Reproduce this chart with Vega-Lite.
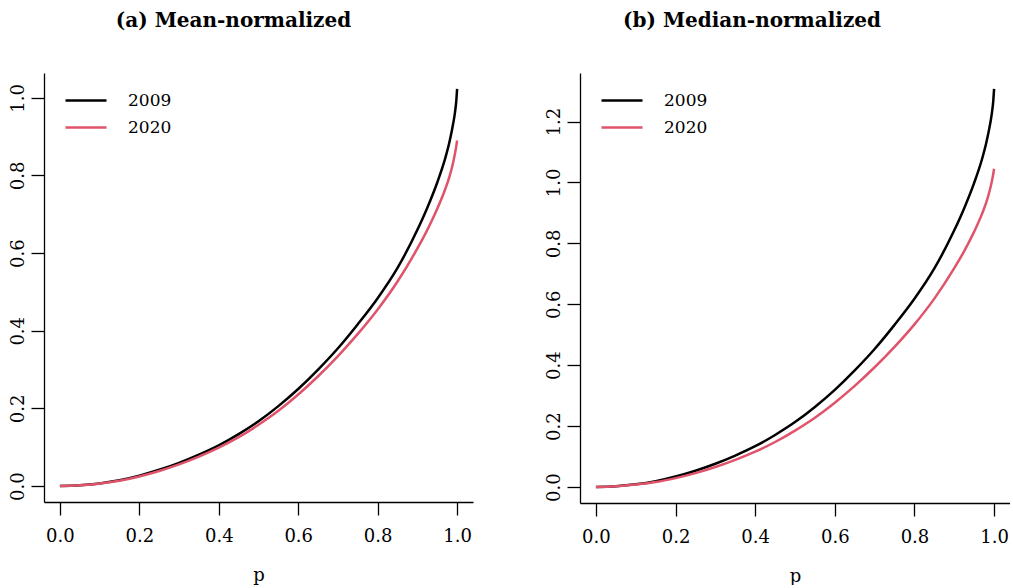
{
  "$schema": "https://vega.github.io/schema/vega-lite/v6.json",
  "padding": {"left": 9, "top": 11, "right": 0, "bottom": 0},
  "background": "white",
  "bounds": "flush",
  "spacing": 107,
  "config": {
    "font": "DejaVu Serif",
    "view": {"stroke": null},
    "axis": {"domainColor": "black", "tickColor": "black", "labelColor": "black", "titleColor": "black", "grid": false, "labelFont": "DejaVu Serif", "labelFontSize": 18, "tickSize": 13, "domainWidth": 1.3, "tickWidth": 1.3, "titleFont": "DejaVu Serif", "titleFontSize": 18, "titleFontWeight": "normal", "labelOverlap": false, "labelFlush": false},
    "legend": {"title": null, "orient": "none", "symbolType": "stroke", "symbolSize": 1681, "symbolStrokeWidth": 2.5, "labelFont": "DejaVu Serif", "labelFontSize": 17, "labelColor": "black", "labelOffset": 20, "rowPadding": 0, "clipHeight": 27, "padding": 0},
    "title": {"font": "DejaVu Serif", "fontSize": 20, "fontWeight": "bold", "color": "black"}
  },
  "resolve": {"scale": {"color": "independent"}, "legend": {"color": "independent"}},
  "datasets": {
    "mean": [
      {"p": 0, "year": "2009", "v": 0},
      {"p": 0.05, "year": "2009", "v": 0.002},
      {"p": 0.1, "year": "2009", "v": 0.007},
      {"p": 0.15, "year": "2009", "v": 0.015},
      {"p": 0.2, "year": "2009", "v": 0.027},
      {"p": 0.25, "year": "2009", "v": 0.042},
      {"p": 0.3, "year": "2009", "v": 0.06},
      {"p": 0.35, "year": "2009", "v": 0.081},
      {"p": 0.4, "year": "2009", "v": 0.105},
      {"p": 0.45, "year": "2009", "v": 0.134},
      {"p": 0.5, "year": "2009", "v": 0.167},
      {"p": 0.55, "year": "2009", "v": 0.206},
      {"p": 0.6, "year": "2009", "v": 0.25},
      {"p": 0.65, "year": "2009", "v": 0.3},
      {"p": 0.7, "year": "2009", "v": 0.355},
      {"p": 0.75, "year": "2009", "v": 0.417},
      {"p": 0.8, "year": "2009", "v": 0.484},
      {"p": 0.85, "year": "2009", "v": 0.562},
      {"p": 0.9, "year": "2009", "v": 0.66},
      {"p": 0.925, "year": "2009", "v": 0.717},
      {"p": 0.95, "year": "2009", "v": 0.782},
      {"p": 0.97, "year": "2009", "v": 0.844},
      {"p": 0.98, "year": "2009", "v": 0.883},
      {"p": 0.99, "year": "2009", "v": 0.933},
      {"p": 0.995, "year": "2009", "v": 0.965},
      {"p": 0.998, "year": "2009", "v": 0.993},
      {"p": 1, "year": "2009", "v": 1.023},
      {"p": 0, "year": "2020", "v": 0},
      {"p": 0.05, "year": "2020", "v": 0.002},
      {"p": 0.1, "year": "2020", "v": 0.007},
      {"p": 0.15, "year": "2020", "v": 0.014},
      {"p": 0.2, "year": "2020", "v": 0.025},
      {"p": 0.25, "year": "2020", "v": 0.039},
      {"p": 0.3, "year": "2020", "v": 0.056},
      {"p": 0.35, "year": "2020", "v": 0.076},
      {"p": 0.4, "year": "2020", "v": 0.099},
      {"p": 0.45, "year": "2020", "v": 0.126},
      {"p": 0.5, "year": "2020", "v": 0.158},
      {"p": 0.55, "year": "2020", "v": 0.194},
      {"p": 0.6, "year": "2020", "v": 0.236},
      {"p": 0.65, "year": "2020", "v": 0.283},
      {"p": 0.7, "year": "2020", "v": 0.335},
      {"p": 0.75, "year": "2020", "v": 0.392},
      {"p": 0.8, "year": "2020", "v": 0.455},
      {"p": 0.85, "year": "2020", "v": 0.527},
      {"p": 0.9, "year": "2020", "v": 0.612},
      {"p": 0.925, "year": "2020", "v": 0.66},
      {"p": 0.95, "year": "2020", "v": 0.7143},
      {"p": 0.97, "year": "2020", "v": 0.7646},
      {"p": 0.98, "year": "2020", "v": 0.7944},
      {"p": 0.99, "year": "2020", "v": 0.8336},
      {"p": 0.995, "year": "2020", "v": 0.8583},
      {"p": 0.998, "year": "2020", "v": 0.8761},
      {"p": 1, "year": "2020", "v": 0.89}
    ],
    "median": [
      {"p": 0, "year": "2009", "v": 0},
      {"p": 0.05, "year": "2009", "v": 0.0026},
      {"p": 0.1, "year": "2009", "v": 0.0089},
      {"p": 0.15, "year": "2009", "v": 0.0192},
      {"p": 0.2, "year": "2009", "v": 0.0345},
      {"p": 0.25, "year": "2009", "v": 0.0536},
      {"p": 0.3, "year": "2009", "v": 0.0766},
      {"p": 0.35, "year": "2009", "v": 0.1034},
      {"p": 0.4, "year": "2009", "v": 0.1341},
      {"p": 0.45, "year": "2009", "v": 0.1711},
      {"p": 0.5, "year": "2009", "v": 0.2133},
      {"p": 0.55, "year": "2009", "v": 0.2631},
      {"p": 0.6, "year": "2009", "v": 0.3193},
      {"p": 0.65, "year": "2009", "v": 0.3831},
      {"p": 0.7, "year": "2009", "v": 0.4533},
      {"p": 0.75, "year": "2009", "v": 0.5325},
      {"p": 0.8, "year": "2009", "v": 0.6181},
      {"p": 0.85, "year": "2009", "v": 0.7177},
      {"p": 0.9, "year": "2009", "v": 0.8428},
      {"p": 0.925, "year": "2009", "v": 0.9156},
      {"p": 0.95, "year": "2009", "v": 0.9986},
      {"p": 0.97, "year": "2009", "v": 1.0778},
      {"p": 0.98, "year": "2009", "v": 1.1276},
      {"p": 0.99, "year": "2009", "v": 1.1914},
      {"p": 0.995, "year": "2009", "v": 1.2323},
      {"p": 0.998, "year": "2009", "v": 1.2681},
      {"p": 1, "year": "2009", "v": 1.307},
      {"p": 0, "year": "2020", "v": 0},
      {"p": 0.05, "year": "2020", "v": 0.0023},
      {"p": 0.1, "year": "2020", "v": 0.0082},
      {"p": 0.15, "year": "2020", "v": 0.0164},
      {"p": 0.2, "year": "2020", "v": 0.0294},
      {"p": 0.25, "year": "2020", "v": 0.0458},
      {"p": 0.3, "year": "2020", "v": 0.0657},
      {"p": 0.35, "year": "2020", "v": 0.0892},
      {"p": 0.4, "year": "2020", "v": 0.1162},
      {"p": 0.45, "year": "2020", "v": 0.1479},
      {"p": 0.5, "year": "2020", "v": 0.1855},
      {"p": 0.55, "year": "2020", "v": 0.2278},
      {"p": 0.6, "year": "2020", "v": 0.2771},
      {"p": 0.65, "year": "2020", "v": 0.3322},
      {"p": 0.7, "year": "2020", "v": 0.3933},
      {"p": 0.75, "year": "2020", "v": 0.4602},
      {"p": 0.8, "year": "2020", "v": 0.5342},
      {"p": 0.85, "year": "2020", "v": 0.6187},
      {"p": 0.9, "year": "2020", "v": 0.7185},
      {"p": 0.925, "year": "2020", "v": 0.7748},
      {"p": 0.95, "year": "2020", "v": 0.8386},
      {"p": 0.97, "year": "2020", "v": 0.8976},
      {"p": 0.98, "year": "2020", "v": 0.9326},
      {"p": 0.99, "year": "2020", "v": 0.9786},
      {"p": 0.995, "year": "2020", "v": 1.0076},
      {"p": 0.998, "year": "2020", "v": 1.0286},
      {"p": 1, "year": "2020", "v": 1.045}
    ]
  },
  "hconcat": [
    {
      "width": 429,
      "height": 429,
      "title": {"text": "(a) Mean-normalized", "dx": -25, "offset": 26, "baseline": "alphabetic"},
      "data": {"name": "mean"},
      "mark": {"type": "line", "strokeWidth": 2.5, "interpolate": "monotone"},
      "encoding": {
        "x": {"field": "p", "type": "quantitative", "scale": {"domain": [-0.04, 1.04], "nice": false, "zero": false}, "axis": {"values": [0, 0.2, 0.4, 0.6, 0.8, 1], "format": ".1f", "title": "p", "titleY": 78, "titleBaseline": "alphabetic", "labelPadding": 12}},
        "y": {"field": "v", "type": "quantitative", "scale": {"domain": [-0.0409, 1.0639], "nice": false, "zero": false}, "axis": {"values": [0, 0.2, 0.4, 0.6, 0.8, 1], "format": ".1f", "title": null, "labelAngle": -90, "labelAlign": "center", "labelBaseline": "alphabetic", "labelPadding": 8}},
        "color": {"field": "year", "type": "nominal", "scale": {"domain": ["2009", "2020"], "range": ["#000000", "#DF536B"]}, "legend": {"legendX": 20, "legendY": 14}}
      }
    },
    {
      "width": 430,
      "height": 430,
      "title": {"text": "(b) Median-normalized", "dx": -43, "offset": 26, "baseline": "alphabetic"},
      "data": {"name": "median"},
      "mark": {"type": "line", "strokeWidth": 2.5, "interpolate": "monotone"},
      "encoding": {
        "x": {"field": "p", "type": "quantitative", "scale": {"domain": [-0.04, 1.04], "nice": false, "zero": false}, "axis": {"values": [0, 0.2, 0.4, 0.6, 0.8, 1], "format": ".1f", "title": "p", "titleY": 78, "titleBaseline": "alphabetic", "labelPadding": 12}},
        "y": {"field": "v", "type": "quantitative", "scale": {"domain": [-0.0523, 1.3593], "nice": false, "zero": false}, "axis": {"values": [0, 0.2, 0.4, 0.6, 0.8, 1, 1.2], "format": ".1f", "title": null, "labelAngle": -90, "labelAlign": "center", "labelBaseline": "alphabetic", "labelPadding": 8}},
        "color": {"field": "year", "type": "nominal", "scale": {"domain": ["2009", "2020"], "range": ["#000000", "#DF536B"]}, "legend": {"legendX": 20, "legendY": 14}}
      }
    }
  ]
}
